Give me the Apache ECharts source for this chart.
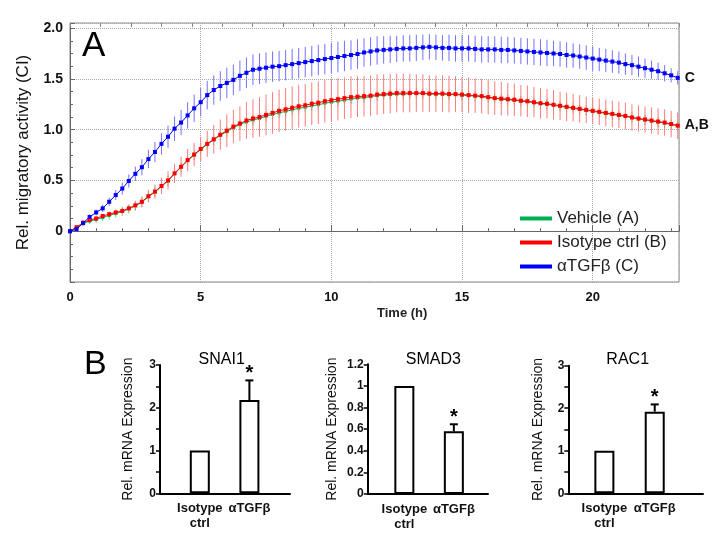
<!DOCTYPE html>
<html><head><meta charset="utf-8">
<script src="https://cdn.jsdelivr.net/npm/echarts@6/dist/echarts.min.js"></script>
<style>html,body{margin:0;padding:0;background:#fff}#c{width:718px;height:540px}</style>
</head><body><div id="c"></div>
<script>
// ---------- Panel A data (time in h, values = relative migratory activity) ----------
const times = [0,0.25,0.5,0.75,1,1.25,1.5,1.75,
 2,2.25,2.5,2.75,3,3.25,3.5,3.75,
 4,4.25,4.5,4.75,5,5.25,5.5,5.75,
 6,6.25,6.5,6.75,7,7.25,7.5,7.75,
 8,8.25,8.5,8.75,9,9.25,9.5,9.75,
 10,10.25,10.5,10.75,11,11.25,11.5,11.75,
 12,12.25,12.5,12.75,13,13.25,13.5,13.75,
 14,14.25,14.5,14.75,15,15.25,15.5,15.75,
 16,16.25,16.5,16.75,17,17.25,17.5,17.75,
 18,18.25,18.5,18.75,19,19.25,19.5,19.75,
 20,20.25,20.5,20.75,21,21.25,21.5,21.75,
 22,22.25,22.5,22.75,23,23.25];
const vehicleA = [0,0.035,0.075,0.10,0.115,0.135,0.155,0.175,
 0.195,0.22,0.25,0.285,0.34,0.385,0.44,0.495,
 0.565,0.63,0.695,0.75,0.805,0.855,0.90,0.945,
 0.98,1.02,1.05,1.075,1.095,1.11,1.13,1.15,
 1.165,1.18,1.195,1.21,1.22,1.235,1.245,1.26,
 1.27,1.28,1.29,1.30,1.31,1.315,1.325,1.335,
 1.34,1.345,1.35,1.35,1.355,1.355,1.355,1.35,
 1.35,1.35,1.345,1.345,1.34,1.335,1.33,1.325,
 1.315,1.31,1.30,1.295,1.29,1.28,1.275,1.265,
 1.255,1.25,1.24,1.23,1.22,1.21,1.20,1.19,
 1.18,1.17,1.16,1.15,1.14,1.13,1.12,1.105,
 1.095,1.085,1.075,1.065,1.05,1.04];
const vehicleAErr = [0,0.015,0.025,0.03,0.035,0.035,0.04,0.04,
 0.045,0.045,0.05,0.05,0.05,0.05,0.05,0.05,
 0.05,0.05,0.05,0.05,0.05,0.05,0.05,0.05,
 0.05,0.05,0.05,0.05,0.05,0.05,0.05,0.05,
 0.05,0.05,0.05,0.05,0.05,0.05,0.05,0.05,
 0.05,0.05,0.05,0.05,0.05,0.05,0.05,0.05,
 0.05,0.05,0.05,0.05,0.05,0.05,0.05,0.05,
 0.05,0.05,0.05,0.05,0.05,0.05,0.05,0.05,
 0.05,0.05,0.05,0.05,0.05,0.05,0.05,0.05,
 0.05,0.05,0.05,0.05,0.05,0.05,0.05,0.05,
 0.05,0.05,0.05,0.05,0.05,0.05,0.05,0.05,
 0.05,0.05,0.05,0.05,0.05,0.05];
const isotypeB = [0,0.04,0.085,0.11,0.125,0.15,0.168,0.185,
 0.20,0.225,0.255,0.29,0.345,0.39,0.445,0.50,
 0.57,0.635,0.70,0.755,0.81,0.86,0.905,0.95,
 0.99,1.03,1.06,1.09,1.11,1.125,1.145,1.165,
 1.185,1.20,1.215,1.23,1.24,1.255,1.265,1.28,
 1.29,1.30,1.31,1.32,1.325,1.33,1.335,1.345,
 1.35,1.355,1.36,1.36,1.36,1.36,1.36,1.355,
 1.355,1.355,1.35,1.35,1.345,1.34,1.335,1.33,
 1.32,1.31,1.305,1.30,1.295,1.285,1.28,1.27,
 1.26,1.255,1.245,1.235,1.225,1.215,1.205,1.195,
 1.185,1.175,1.165,1.155,1.145,1.135,1.12,1.11,
 1.10,1.09,1.08,1.07,1.055,1.04];
const isotypeBErr = [0,0.01,0.01,0.015,0.015,0.02,0.02,0.02,
 0.025,0.03,0.04,0.05,0.06,0.07,0.08,0.09,
 0.095,0.10,0.11,0.115,0.12,0.13,0.14,0.15,
 0.16,0.165,0.17,0.18,0.19,0.195,0.2,0.205,
 0.21,0.21,0.21,0.21,0.21,0.21,0.21,0.21,
 0.21,0.21,0.205,0.205,0.2,0.2,0.2,0.2,
 0.195,0.195,0.19,0.19,0.19,0.185,0.185,0.18,
 0.18,0.18,0.18,0.175,0.175,0.175,0.17,0.17,
 0.17,0.165,0.165,0.16,0.16,0.155,0.155,0.15,
 0.15,0.145,0.145,0.14,0.14,0.135,0.135,0.13,
 0.13,0.13,0.13,0.13,0.13,0.13,0.13,0.13,
 0.13,0.13,0.13,0.13,0.13,0.13];
const antiTgfC = [0,0.02,0.08,0.14,0.185,0.225,0.29,0.356,
 0.42,0.495,0.565,0.63,0.71,0.78,0.86,0.93,
 1.01,1.07,1.14,1.21,1.27,1.34,1.39,1.43,
 1.46,1.49,1.53,1.56,1.59,1.60,1.61,1.62,
 1.625,1.635,1.645,1.655,1.665,1.675,1.685,1.695,
 1.705,1.715,1.725,1.735,1.745,1.76,1.77,1.78,
 1.785,1.79,1.795,1.80,1.80,1.805,1.81,1.815,
 1.81,1.805,1.805,1.80,1.80,1.80,1.795,1.79,
 1.79,1.79,1.785,1.785,1.78,1.775,1.77,1.765,
 1.76,1.755,1.75,1.745,1.735,1.73,1.72,1.71,
 1.70,1.69,1.68,1.67,1.66,1.645,1.635,1.62,
 1.605,1.59,1.575,1.555,1.535,1.51];
const antiTgfCErr = [0,0.01,0.02,0.025,0.03,0.035,0.04,0.05,
 0.06,0.065,0.07,0.08,0.09,0.1,0.105,0.11,
 0.12,0.125,0.13,0.135,0.14,0.14,0.145,0.145,
 0.15,0.15,0.15,0.15,0.15,0.15,0.15,0.15,
 0.15,0.15,0.15,0.15,0.15,0.15,0.15,0.15,
 0.15,0.15,0.15,0.145,0.145,0.14,0.14,0.14,
 0.135,0.135,0.13,0.13,0.13,0.13,0.125,0.125,
 0.125,0.125,0.13,0.13,0.13,0.13,0.13,0.13,
 0.13,0.13,0.13,0.13,0.13,0.13,0.13,0.13,
 0.13,0.13,0.125,0.125,0.125,0.12,0.12,0.12,
 0.12,0.115,0.115,0.11,0.11,0.105,0.1,0.1,
 0.095,0.09,0.085,0.08,0.07,0.065];
const seriesNames = ['Vehicle (A)', 'Isotype ctrl (B)', 'αTGFβ (C)'];
const endTags = ['', 'A,B', 'C'];

// ---------- Panel B data ----------
const barCats = ['Isotype\nctrl', 'αTGFβ'];
const snai1Vals = [1.0, 2.18];
const snai1Err = [0, 0.46];
const smad3Vals = [1.0, 0.58];
const smad3Err = [0, 0.065];
const rac1Vals = [1.0, 1.92];
const rac1Err = [0, 0.17];
const sigMarks = ['', '*'];
const geneNames = ['SNAI1', 'SMAD3', 'RAC1'];

const FF = '"Liberation Sans", Arial, sans-serif';
const chart = echarts.init(document.getElementById('c'), null, {renderer: 'canvas'});

function pairs(v){ return times.map((t,i)=>[t, v[i]]); }
function triples(v,e){ return times.map((t,i)=>[t, v[i], e[i]]); }
function errRender(color){
  return function(params, api){
    const t = api.value(0), v = api.value(1), e = api.value(2);
    if (!e) return null;
    const a = api.coord([t, v - e]), b = api.coord([t, v + e]);
    return {type:'line', shape:{x1:a[0], y1:a[1], x2:b[0], y2:b[1]}, style:{stroke:color, lineWidth:1}};
  };
}
function barErrRender(params, api){
  const x = api.value(0), v = api.value(1), e = api.value(2);
  const children = [];
  const base = api.coord([x, v]);
  let top = base;
  if (e) {
    top = api.coord([x, v + e]);
    children.push({type:'line', shape:{x1:top[0], y1:base[1], x2:top[0], y2:top[1]}, style:{stroke:'#000', lineWidth:2}});
    children.push({type:'line', shape:{x1:top[0]-4, y1:top[1], x2:top[0]+4, y2:top[1]}, style:{stroke:'#000', lineWidth:2}});
  }
  const s = sigMarks[params.dataIndex];
  if (s) {
    children.push({type:'text', x: top[0], y: top[1] + 3,
      style:{text:s, fill:'#000', font:'bold 20px ' + FF, textAlign:'center', align:'center', textVerticalAlign:'bottom', verticalAlign:'bottom'}});
  }
  return {type:'group', children};
}

const lineColors = ['#00b050', '#ff0000', '#0000ff'];
const errColors = ['#66d066', '#ff7a7a', '#7272ff'];
const vals = [vehicleA, isotypeB, antiTgfC];
const errs = [vehicleAErr, isotypeBErr, antiTgfCErr];

const series = [];
for (let k = 0; k < 3; k++) {
  series.push({
    name: seriesNames[k] + ' err', type:'custom', xAxisIndex:0, yAxisIndex:0,
    renderItem: errRender(errColors[k]), encode:{x:0, y:1},
    data: triples(vals[k], errs[k]), z: 2 + k*2, silent:true
  });
  series.push({
    name: seriesNames[k], type:'line', xAxisIndex:0, yAxisIndex:0,
    data: pairs(vals[k]), symbol:'rect', symbolSize: k===0 ? 3 : 4,
    itemStyle:{color: lineColors[k]}, lineStyle:{color: lineColors[k], width:1},
    z: 3 + k*2,
    endLabel: endTags[k] ? {show:true, formatter: endTags[k], distance: 7, color:'#111',
      fontSize:14, fontWeight:'bold', fontFamily: FF} : {show:false}
  });
}

// bar panels
const barPanels = [
  {vals: snai1Vals, err: snai1Err, max:3, interval:1, minor:true, axisX:160, left:175, width:99.2, top:365, height:128.3, lineRight:290, nameGap:25},
  {vals: smad3Vals, err: smad3Err, max:1.2, interval:0.2, minor:false, axisX:367.7, left:379.6, width:99, top:364.3, height:129.7, lineRight:488, nameGap:29},
  {vals: rac1Vals, err: rac1Err, max:3, interval:1, minor:true, axisX:568.3, left:579.2, width:100.7, top:365.7, height:127.6, lineRight:703, nameGap:23}
];

const grids = [{left:70, top:23, width:609, height:259, show:true, borderColor:'#8a8a8a', borderWidth:1, backgroundColor:'transparent'}];
const xAxes = [
  {gridIndex:0, type:'value', min:0, max:23.3, interval:5,
   axisLine:{lineStyle:{color:'#666', width:1}},
   axisTick:{inside:true, length:6, lineStyle:{color:'#666'}},
   minorTick:{show:true, splitNumber:5, length:3, lineStyle:{color:'#666'}},
   splitLine:{show:true, lineStyle:{color:'#aaa', type:'dotted', width:1}},
   axisLabel:{formatter: v => (v % 5 === 0 ? String(v) : ''), fontSize:13, fontWeight:'bold', color:'#111', margin:9, fontFamily:FF}},
  {gridIndex:0, type:'value', position:'top', min:0, max:20, interval:1,
   axisLine:{show:false}, axisTick:{inside:true, length:4, lineStyle:{color:'#888'}},
   axisLabel:{show:false}, splitLine:{show:false}}
];
const yAxes = [
  {gridIndex:0, type:'value', min:-0.5, max:2.05, interval:0.5,
   axisLine:{show:true, lineStyle:{color:'#666', width:1}},
   axisTick:{show:true, inside:true, length:5, lineStyle:{color:'#666'}},
   minorTick:{show:true, splitNumber:4, length:3, lineStyle:{color:'#666'}},
   splitLine:{show:true, lineStyle:{color:'#aaa', type:'dotted', width:1}},
   axisLabel:{formatter: v => (Math.abs(v) < 1e-9 ? '0' : (v < 0 || v > 2.01 ? '' : v.toFixed(1))),
     fontSize:14, fontWeight:'bold', color:'#111', margin:7, fontFamily:FF},
   name:'Rel. migratory activity (CI)', nameLocation:'middle', nameGap:38,
   nameTextStyle:{fontSize:17, color:'#111', fontFamily:FF}}
];

barPanels.forEach((p, i) => {
  const gi = grids.length;
  grids.push({left:p.left, top:p.top, width:p.width, height:p.height});
  xAxes.push({gridIndex:gi, type:'category', data:barCats,
    axisLine:{show:false}, axisTick:{show:false},
    axisLabel:{interval:0, fontSize:13, fontWeight:'bold', color:'#111', margin:8, lineHeight:15, fontFamily:FF}});
  yAxes.push({gridIndex:gi, type:'value', min:0, max:p.max, interval:p.interval, offset: p.left - p.axisX,
    axisLine:{show:true, lineStyle:{color:'#000', width:2}},
    axisTick:{show:true, length:4, lineStyle:{color:'#000', width:1.5}},
    minorTick:{show:p.minor, splitNumber:2, length:4, lineStyle:{color:'#000', width:1.5}},
    splitLine:{show:false},
    axisLabel:{fontSize:12, fontWeight:'bold', color:'#111', margin:4, fontFamily:FF},
    name:'Rel. mRNA Expression', nameLocation:'middle', nameGap:p.nameGap,
    nameTextStyle:{fontSize:14, color:'#111', fontFamily:FF}});
  series.push({type:'bar', xAxisIndex:xAxes.length-1, yAxisIndex:yAxes.length-1, data:p.vals,
    barWidth:20, itemStyle:{color:'#fff', borderColor:'#000', borderWidth:2}, silent:true, z:3});
  series.push({type:'custom', xAxisIndex:xAxes.length-1, yAxisIndex:yAxes.length-1,
    renderItem: barErrRender, encode:{x:0, y:1},
    data: p.vals.map((v, j) => [j, v, p.err[j]]), z:4, silent:true});
  // baseline axis spanning the full panel width
  const gl = grids.length;
  grids.push({left:p.axisX, top:p.top, width:p.lineRight - p.axisX, height:p.height});
  xAxes.push({gridIndex:gl, type:'value', min:0, max:1,
    axisLine:{show:true, onZero:false, lineStyle:{color:'#000', width:2}},
    axisTick:{show:false}, axisLabel:{show:false}, splitLine:{show:false}});
  yAxes.push({gridIndex:gl, type:'value', show:false, min:0, max:1});
});

const titles = [
  {text:'A', left:77, top:24, textStyle:{fontSize:35, fontWeight:'normal', color:'#000', fontFamily:FF}},
  {text:'B', left:79, top:343, textStyle:{fontSize:34, fontWeight:'normal', color:'#000', fontFamily:FF}},
  {text:'Time (h)', left:372, top:302, textStyle:{fontSize:13, fontWeight:'bold', color:'#222', fontFamily:FF}},
  {text:geneNames[0], left:216.7, textAlign:'center', top:347, textStyle:{fontSize:16, fontWeight:'normal', color:'#000', fontFamily:FF}},
  {text:geneNames[1], left:428.3, textAlign:'center', top:347, textStyle:{fontSize:16, fontWeight:'normal', color:'#000', fontFamily:FF}},
  {text:geneNames[2], left:622.7, textAlign:'center', top:347, textStyle:{fontSize:16, fontWeight:'normal', color:'#000', fontFamily:FF}}
];

chart.setOption({
  animation:false,
  backgroundColor:'#fff',
  title: titles,
  legend: {data: seriesNames, orient:'vertical', left:515, top:205, icon:'rect', itemWidth:32, itemHeight:4,
    itemGap:7, textStyle:{fontSize:17, color:'#222', fontFamily:FF}, selectedMode:false},
  grid: grids, xAxis: xAxes, yAxis: yAxes, series: series
});
</script></body></html>
